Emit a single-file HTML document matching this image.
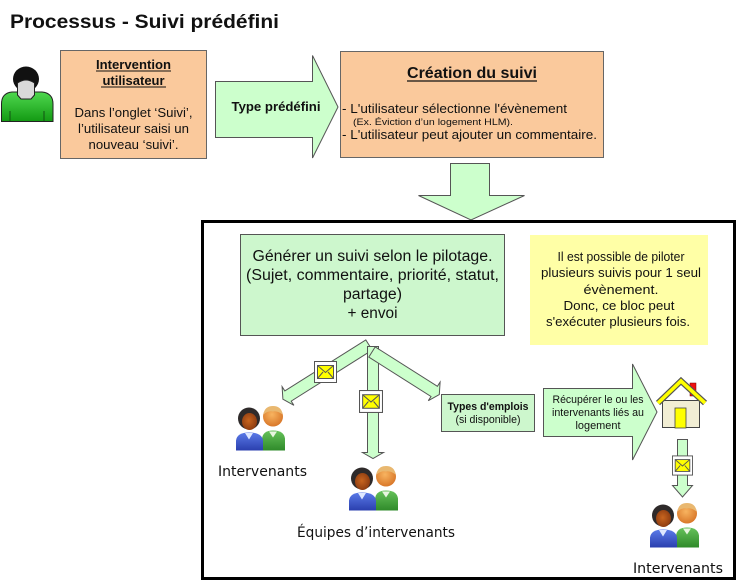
<!DOCTYPE html>
<html>
<head>
<meta charset="utf-8">
<style>
  html,body{margin:0;padding:0;background:#fff;}
  svg{display:block;}
  text{font-family:"Liberation Sans", Arial, sans-serif;fill:#111;}
  .dv{font-family:"DejaVu Sans", "Liberation Sans", sans-serif;}
</style>
</head>
<body>
<svg width="737" height="581" viewBox="0 0 737 581" xmlns="http://www.w3.org/2000/svg">
  <defs>
    <linearGradient id="gbody" x1="0" y1="0" x2="0" y2="1">
      <stop offset="0" stop-color="#4fd84f"/>
      <stop offset="1" stop-color="#139a13"/>
    </linearGradient>
    <radialGradient id="manHead" cx="0.45" cy="0.4" r="0.6">
      <stop offset="0" stop-color="#f8b460"/>
      <stop offset="1" stop-color="#d9782a"/>
    </radialGradient>
    <radialGradient id="womanFace" cx="0.45" cy="0.45" r="0.6">
      <stop offset="0" stop-color="#c8651f"/>
      <stop offset="1" stop-color="#8a3a10"/>
    </radialGradient>
    <linearGradient id="blueBody" x1="0" y1="0" x2="0" y2="1">
      <stop offset="0" stop-color="#5a7ae8"/>
      <stop offset="1" stop-color="#2a3fae"/>
    </linearGradient>
    <linearGradient id="greenBody" x1="0" y1="0" x2="0" y2="1">
      <stop offset="0" stop-color="#66c25a"/>
      <stop offset="1" stop-color="#2f8a2a"/>
    </linearGradient>
    <symbol id="env" viewBox="0 0 23 22">
      <rect x="0.5" y="0.5" width="22" height="21" fill="#fff" stroke="#555" stroke-width="1"/>
      <rect x="3.5" y="4.5" width="16" height="13" fill="#ffff00" stroke="#555" stroke-width="1"/>
      <polyline points="3.5,4.5 11.5,11.5 19.5,4.5" fill="none" stroke="#555" stroke-width="1"/>
      <line x1="3.5" y1="17.5" x2="9" y2="11" stroke="#555" stroke-width="1"/>
      <line x1="19.5" y1="17.5" x2="14" y2="11" stroke="#555" stroke-width="1"/>
    </symbol>
    <symbol id="people" viewBox="0 0 56 46">
      <path d="M27,46 L27,34 Q28,26 38,26 Q49,26 50,34 L50,46 Z" fill="url(#greenBody)"/>
      <path d="M34,27 L38,33 L42,27 Z" fill="#e8f5e0"/>
      <circle cx="38" cy="12" r="10" fill="url(#manHead)"/>
      <path d="M28.5,10 Q29.5,1.5 38,1.5 Q46.5,1.5 47.5,10 Q42,6 38,7 Q33,6 28.5,10 Z" fill="#e9b870"/>
      <path d="M1,46 L1,36 Q2,28 14,28 Q27,28 28,36 L28,46 Z" fill="url(#blueBody)"/>
      <path d="M10,28.5 L14,35 L18,28.5 Z" fill="#dfe8ff"/>
      <circle cx="14" cy="14" r="11" fill="#2e2a2a"/>
      <ellipse cx="14.5" cy="17" rx="7.5" ry="8.5" fill="url(#womanFace)"/>
    </symbol>
  </defs>

  <!-- Title -->
  <text x="10" y="28" font-size="19" font-weight="bold" textLength="269" lengthAdjust="spacingAndGlyphs">Processus - Suivi prédéfini</text>

  <!-- Person icon top-left -->
  <path d="M1.5,121.5 L1.5,104 Q1.5,93 12,92 L42,92 Q53,93 53,104 L53,121.5 Z" fill="url(#gbody)" stroke="#222" stroke-width="1"/>
  <line x1="10" y1="111" x2="10" y2="121" stroke="#135213" stroke-width="1"/>
  <line x1="44" y1="111" x2="44" y2="121" stroke="#135213" stroke-width="1"/>
  <ellipse cx="26" cy="79" rx="13" ry="12.5" fill="#111"/>
  <path d="M17.5,83 Q22,80 26,80 Q30,80 34.5,83 L34.5,95 L31,99 L21,99 L17.5,95 Z" fill="#d9d9d9" stroke="#222" stroke-width="1"/>

  <!-- Box 1 -->
  <rect x="60.5" y="50.5" width="146" height="108" fill="#fac99c" stroke="#666" stroke-width="1"/>
  <text x="133.5" y="69" font-size="13" font-weight="bold" text-anchor="middle" textLength="75" lengthAdjust="spacingAndGlyphs">Intervention</text>
  <line x1="96" y1="71" x2="171" y2="71" stroke="#111" stroke-width="1"/>
  <text x="133.5" y="85" font-size="13" font-weight="bold" text-anchor="middle">utilisateur</text>
  <line x1="101" y1="87" x2="166" y2="87" stroke="#111" stroke-width="1"/>
  <text x="133.5" y="117" font-size="13" text-anchor="middle" textLength="118" lengthAdjust="spacingAndGlyphs">Dans l’onglet ‘Suivi’,</text>
  <text x="133.5" y="133" font-size="13" text-anchor="middle" textLength="111" lengthAdjust="spacingAndGlyphs">l’utilisateur saisi un</text>
  <text x="133.5" y="149" font-size="13" text-anchor="middle" textLength="90" lengthAdjust="spacingAndGlyphs">nouveau ‘suivi’.</text>

  <!-- Arrow 1 -->
  <polygon points="215.5,81.5 312.5,81.5 312.5,55.5 338,107 312.5,158 312.5,137.5 215.5,137.5" fill="#ccffcc" stroke="#555" stroke-width="1"/>
  <text x="276" y="111" font-size="13" font-weight="bold" text-anchor="middle" textLength="89" lengthAdjust="spacingAndGlyphs">Type prédéfini</text>

  <!-- Box 2 -->
  <rect x="340.5" y="51.5" width="263" height="106" fill="#fac99c" stroke="#666" stroke-width="1"/>
  <text x="472" y="78" font-size="16" font-weight="bold" text-anchor="middle" textLength="130" lengthAdjust="spacingAndGlyphs">Création du suivi</text>
  <line x1="407" y1="81" x2="537" y2="81" stroke="#111" stroke-width="1.2"/>
  <text x="342" y="113" font-size="13" textLength="225" lengthAdjust="spacingAndGlyphs">- L'utilisateur sélectionne l'évènement</text>
  <text x="353" y="125" font-size="9.5" textLength="160" lengthAdjust="spacingAndGlyphs">(Ex. Éviction d’un logement HLM).</text>
  <text x="342" y="139" font-size="13" textLength="255" lengthAdjust="spacingAndGlyphs">- L'utilisateur peut ajouter un commentaire.</text>

  <!-- Down arrow -->
  <polygon points="450.5,163.5 489.5,163.5 489.5,195.5 524.5,195.5 471,220 418.5,195.5 450.5,195.5" fill="#ccffcc" stroke="#555" stroke-width="1"/>

  <!-- Big frame -->
  <rect x="202.5" y="221.5" width="532" height="357" fill="none" stroke="#000" stroke-width="3"/>

  <!-- Green box -->
  <rect x="240.5" y="234.5" width="264" height="101" fill="#cdf7cd" stroke="#555" stroke-width="1"/>
  <text x="372.5" y="261" font-size="15.5" text-anchor="middle" textLength="240" lengthAdjust="spacingAndGlyphs">Générer un suivi selon le pilotage.</text>
  <text x="372.5" y="280" font-size="15.5" text-anchor="middle" textLength="253" lengthAdjust="spacingAndGlyphs">(Sujet, commentaire, priorité, statut,</text>
  <text x="372.5" y="299" font-size="15.5" text-anchor="middle" textLength="59" lengthAdjust="spacingAndGlyphs">partage)</text>
  <text x="372.5" y="318" font-size="15.5" text-anchor="middle" textLength="50" lengthAdjust="spacingAndGlyphs">+ envoi</text>

  <!-- Yellow box -->
  <rect x="530" y="235" width="178" height="110" fill="#ffffa6"/>
  <text x="621" y="261" font-size="12.5" text-anchor="middle" textLength="127" lengthAdjust="spacingAndGlyphs">Il est possible de piloter</text>
  <text x="621" y="277" font-size="12.5" text-anchor="middle" textLength="160" lengthAdjust="spacingAndGlyphs">plusieurs suivis pour 1 seul</text>
  <text x="621" y="294" font-size="12.5" text-anchor="middle" textLength="75" lengthAdjust="spacingAndGlyphs">évènement.</text>
  <text x="619" y="310" font-size="12.5" text-anchor="middle" textLength="111" lengthAdjust="spacingAndGlyphs">Donc, ce bloc peut</text>
  <text x="618" y="326" font-size="12.5" text-anchor="middle" textLength="144" lengthAdjust="spacingAndGlyphs">s'exécuter plusieurs fois.</text>

  <!-- Fork arrows -->
  <polygon points="365.8,339.9 372.2,350.1 291.2,401.1 293.9,405.3 282.9,399.2 282.1,386.7 284.8,390.9" fill="#ccffcc" stroke="#555" stroke-width="1"/>
  <polygon points="367.5,346.5 378.5,346.5 378.5,452.5 383.5,452.5 373,458.5 362.5,452.5 367.5,452.5" fill="#ccffcc" stroke="#555" stroke-width="1"/>
  <polygon points="375.2,346.9 437.4,386.3 440.1,382.1 439.3,394.6 428.3,400.7 431,396.5 368.8,357.1" fill="#ccffcc" stroke="#555" stroke-width="1"/>

  <use href="#env" x="314" y="361" width="23" height="22"/>
  <use href="#env" x="359" y="390" width="24" height="23"/>

  <!-- Types d'emplois -->
  <rect x="441.5" y="394.5" width="93" height="37" fill="#cdf7cd" stroke="#555" stroke-width="1"/>
  <text x="488" y="410" font-size="11" font-weight="bold" text-anchor="middle" textLength="81" lengthAdjust="spacingAndGlyphs">Types d'emplois</text>
  <text x="488" y="423" font-size="11" text-anchor="middle" textLength="65" lengthAdjust="spacingAndGlyphs">(si disponible)</text>

  <!-- Big right arrow -->
  <polygon points="543.5,388.5 632.5,388.5 632.5,364 657,412 632.5,460 632.5,436.5 543.5,436.5" fill="#ccffcc" stroke="#555" stroke-width="1"/>
  <text x="598" y="403" font-size="11" text-anchor="middle" textLength="91" lengthAdjust="spacingAndGlyphs">Récupérer le ou les</text>
  <text x="598" y="416" font-size="11" text-anchor="middle" textLength="92" lengthAdjust="spacingAndGlyphs">intervenants liés au</text>
  <text x="598" y="429" font-size="11" text-anchor="middle" textLength="45" lengthAdjust="spacingAndGlyphs">logement</text>

  <!-- House -->
  <rect x="690" y="383" width="6" height="13" fill="#ee1111" stroke="#700" stroke-width="0.5"/>
  <rect x="662.5" y="400.5" width="37" height="27" fill="#f2eed4" stroke="#444" stroke-width="1"/>
  <rect x="675" y="408" width="11" height="20" fill="#ffff00" stroke="#444" stroke-width="0.8"/>
  <polyline points="658,403 681,381 705,403" fill="none" stroke="#555" stroke-width="6" stroke-linejoin="miter"/>
  <polyline points="658,403 681,381 705,403" fill="none" stroke="#ffff00" stroke-width="3.6" stroke-linejoin="miter"/>

  <!-- Down arrow under house -->
  <polygon points="677.5,439.5 687.5,439.5 687.5,485.5 692.5,485.5 682.5,497 672.5,485.5 677.5,485.5" fill="#ccffcc" stroke="#555" stroke-width="1"/>
  <use href="#env" x="672" y="455" width="21" height="21"/>

  <!-- People icons -->
  <use href="#people" x="235" y="404" width="56" height="47"/>
  <use href="#people" x="348" y="464" width="56" height="47"/>
  <use href="#people" x="649" y="501" width="56" height="47"/>

  <!-- Labels -->
  <text class="dv" x="218" y="476" font-size="14" textLength="89" lengthAdjust="spacingAndGlyphs">Intervenants</text>
  <text class="dv" x="297" y="537" font-size="14" textLength="158" lengthAdjust="spacingAndGlyphs">Équipes d’intervenants</text>
  <text class="dv" x="633" y="573" font-size="14" textLength="90" lengthAdjust="spacingAndGlyphs">Intervenants</text>
</svg>
</body>
</html>
